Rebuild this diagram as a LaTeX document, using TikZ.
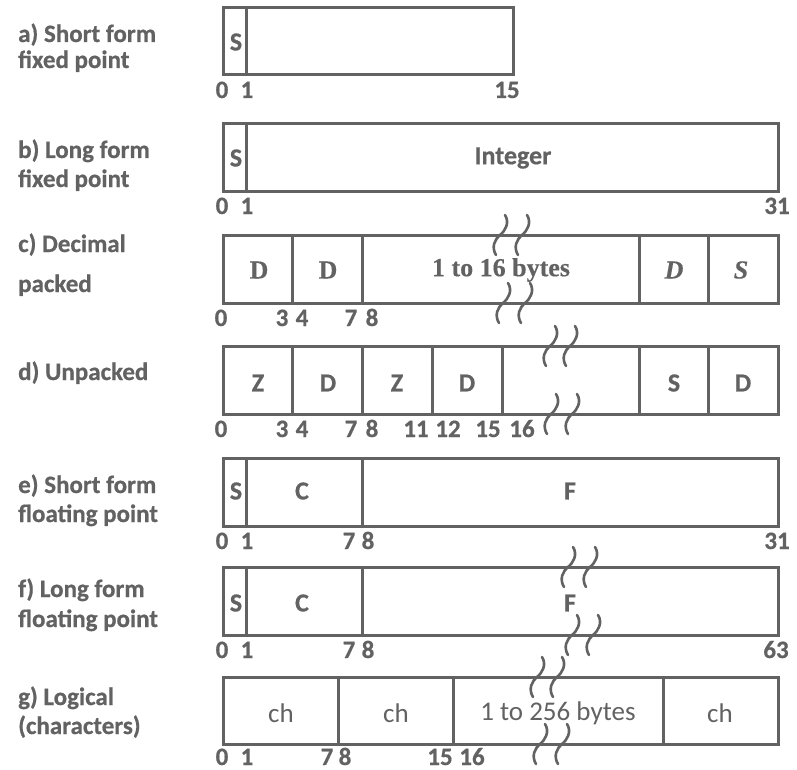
\documentclass[tikz,border=0pt]{standalone}
\usepackage{fontspec}
\setmainfont{Carlito}[BoldFeatures={FakeBold=0.6}]
\newfontfamily\serifb{Liberation Serif}[BoldFeatures={FakeBold=0.4},BoldItalicFeatures={FakeBold=0.4}]
\definecolor{ink}{RGB}{98,98,98}
\newcommand\brkmark[2]{\draw[brkline] (#1+5,#2-20) .. controls (#1+10,#2-12) and (#1+5,#2-4) .. (#1,#2) .. controls (#1-5,#2+4) and (#1-9,#2+12) .. (#1-4,#2+20);}
\begin{document}
\begin{tikzpicture}[x=1pt,y=-1pt,
  box/.style={draw=ink,line width=3pt},
  brkline/.style={draw=ink,line width=2.6pt,line cap=round},
  lbl/.style={anchor=base west,inner sep=0pt,text=ink,font=\fontsize{25}{25}\selectfont\bfseries},
  num/.style={anchor=base,inner sep=0pt,text=ink,font=\fontsize{25}{25}\selectfont\bfseries},
  fld/.style={inner sep=0pt,text=ink,font=\fontsize{26}{26}\selectfont\bfseries},
  fldr/.style={inner sep=0pt,text=ink,font=\fontsize{27}{27}\selectfont},
  flds/.style={inner sep=0pt,text=ink,font=\fontsize{26}{26}\selectfont\serifb\bfseries},
  fldsi/.style={inner sep=0pt,text=ink,font=\fontsize{26}{26}\selectfont\serifb\bfseries\itshape}]
\useasboundingbox (0,0) rectangle (797,770);

% ---------- a)
\node[lbl] (la1) at (18,42) {a) Short form};
\node[lbl] (la2) at (18,68) {fixed point};
\draw[box] (223,8) rectangle (513,75);
\draw[box] (246,8) -- (246,75);
\node[fld] (aS) at (236,42) {S};
\node[num] (a0) at (222,98) {0};
\node[num] (a1) at (247,98) {1};
\node[num] (a15) at (507,98) {15};

% ---------- b)
\node[lbl] (lb1) at (18,158) {b) Long form};
\node[lbl] (lb2) at (18,187) {fixed point};
\draw[box] (223,124) rectangle (778,191);
\draw[box] (246,124) -- (246,191);
\node[fld] (bS) at (236,158) {S};
\node[fld] (bI) at (513,158) {Integer};
\node[num] (b0) at (222,214) {0};
\node[num] (b1) at (247,214) {1};
\node[num] (b31) at (777,214) {31};

% ---------- c)
\node[lbl] (lc1) at (18,252) {c) Decimal};
\node[lbl] (lc2) at (18,292) {packed};
\draw[box] (223,235) rectangle (778,303);
\foreach \xx in {292,362,639,708} \draw[box] (\xx,235) -- (\xx,303);
\node[flds] (cD1) at (259,270) {D};
\node[flds] (cD2) at (328,270) {D};
\node[flds] (cB) at (501,270) {1 to 16 bytes};
\node[fldsi] (cD3) at (674,270) {D};
\node[fldsi] (cS) at (741,270) {S};
\node[num] (c0) at (221,326) {0};
\node[num] (c3) at (282,326) {3};
\node[num] (c4) at (302,326) {4};
\node[num] (c7) at (351,326) {7};
\node[num] (c8) at (372,326) {8};
\brkmark{500}{235}\brkmark{522}{235}
\brkmark{503}{303}\brkmark{525}{303}

% ---------- d)
\node[lbl] (ld1) at (18,380) {d) Unpacked};
\draw[box] (223,346) rectangle (778,414);
\foreach \xx in {292,362,432,502,639,708} \draw[box] (\xx,346) -- (\xx,414);
\node[fld] (dZ1) at (258,383) {Z};
\node[fld] (dD1) at (328,383) {D};
\node[fld] (dZ2) at (397,383) {Z};
\node[fld] (dD2) at (467,383) {D};
\node[fld] (dS) at (674,383) {S};
\node[fld] (dD3) at (743,383) {D};
\node[num] (d0) at (221,437) {0};
\node[num] (d3) at (282,437) {3};
\node[num] (d4) at (302,437) {4};
\node[num] (d7) at (351,437) {7};
\node[num] (d8) at (372,437) {8};
\node[num] (d11) at (416,437) {11};
\node[num] (d12) at (448,437) {12};
\node[num] (d15) at (488,437) {15};
\node[num] (d16) at (522,437) {16};
\brkmark{550}{346}\brkmark{570}{346}
\brkmark{551}{414}\brkmark{572}{414}

% ---------- e)
\node[lbl] (le1) at (18,493) {e) Short form};
\node[lbl] (le2) at (18,522) {floating point};
\draw[box] (223,458) rectangle (778,526);
\foreach \xx in {246,362} \draw[box] (\xx,458) -- (\xx,526);
\node[fld] (eS) at (236,491) {S};
\node[fld] (eC) at (302,491) {C};
\node[fld] (eF) at (570,491) {F};
\node[num] (e0) at (222,549) {0};
\node[num] (e1) at (247,549) {1};
\node[num] (e7) at (349,549) {7};
\node[num] (e8) at (368,549) {8};
\node[num] (e31) at (777,549) {31};

% ---------- f)
\node[lbl] (lf1) at (18,597) {f) Long form};
\node[lbl] (lf2) at (18,627) {floating point};
\draw[box] (223,567) rectangle (778,635);
\foreach \xx in {246,362} \draw[box] (\xx,567) -- (\xx,635);
\node[fld] (fS) at (236,603) {S};
\node[fld] (fC) at (302,603) {C};
\node[fld] (fF) at (570,603) {F};
\node[num] (f0) at (222,658) {0};
\node[num] (f1) at (247,658) {1};
\node[num] (f7) at (349,658) {7};
\node[num] (f8) at (368,658) {8};
\node[num] (f63) at (776,658) {63};
\brkmark{568}{567}\brkmark{590}{567}
\brkmark{572}{635}\brkmark{593}{635}

% ---------- g)
\node[lbl] (lg1) at (18,705) {g) Logical};
\node[lbl] (lg2) at (18,734) {(characters)};
\draw[box] (223,677) rectangle (778,744);
\foreach \xx in {338,453,663} \draw[box] (\xx,677) -- (\xx,744);
\node[fldr] (gc1) at (281,713) {ch};
\node[fldr] (gc2) at (396,713) {ch};
\node[fldr] (gB) at (558,713) {1 to 256 bytes};
\node[fldr] (gc3) at (720,713) {ch};
\node[num] (g0) at (222,765) {0};
\node[num] (g1) at (247,765) {1};
\node[num] (g7) at (327,765) {7};
\node[num] (g8) at (345,765) {8};
\node[num] (g15) at (440,765) {15};
\node[num] (g16) at (472,765) {16};
\brkmark{537}{677}\brkmark{557}{677}
\brkmark{540}{744}\brkmark{562}{744}
\end{tikzpicture}
\end{document}
